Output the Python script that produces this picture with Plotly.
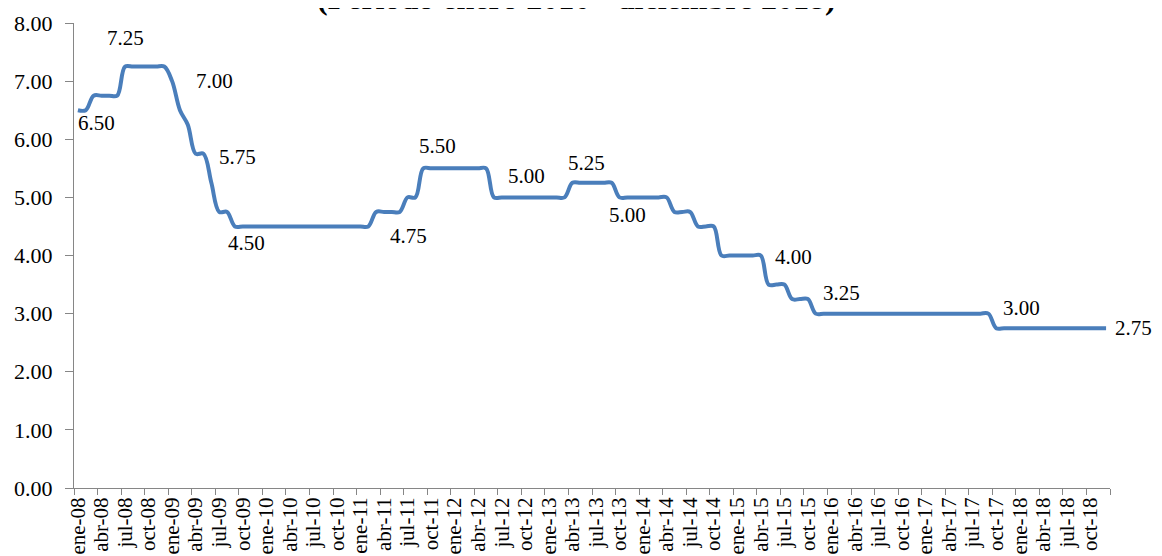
import plotly.graph_objects as go

# monthly labels, ene-08 .. dic-18
month_names = ["ene", "feb", "mar", "abr", "may", "jun",
               "jul", "ago", "sep", "oct", "nov", "dic"]
years = ["08", "09", "10", "11", "12", "13", "14", "15", "16", "17", "18"]
months = [f"{m}-{y}" for y in years for m in month_names]

# tasa de interés líder (%)
rate_2008 = [6.50, 6.50, 6.75, 6.75, 6.75, 6.75, 7.25, 7.25, 7.25, 7.25, 7.25, 7.25]
rate_2009 = [7.00, 6.50, 6.25, 5.75, 5.75, 5.25, 4.75, 4.75, 4.50, 4.50, 4.50, 4.50]
rate_2010 = [4.50, 4.50, 4.50, 4.50, 4.50, 4.50, 4.50, 4.50, 4.50, 4.50, 4.50, 4.50]
rate_2011 = [4.50, 4.50, 4.75, 4.75, 4.75, 4.75, 5.00, 5.00, 5.50, 5.50, 5.50, 5.50]
rate_2012 = [5.50, 5.50, 5.50, 5.50, 5.50, 5.00, 5.00, 5.00, 5.00, 5.00, 5.00, 5.00]
rate_2013 = [5.00, 5.00, 5.00, 5.25, 5.25, 5.25, 5.25, 5.25, 5.25, 5.00, 5.00, 5.00]
rate_2014 = [5.00, 5.00, 5.00, 5.00, 4.75, 4.75, 4.75, 4.50, 4.50, 4.50, 4.00, 4.00]
rate_2015 = [4.00, 4.00, 4.00, 4.00, 3.50, 3.50, 3.50, 3.25, 3.25, 3.25, 3.00, 3.00]
rate_2016 = [3.00, 3.00, 3.00, 3.00, 3.00, 3.00, 3.00, 3.00, 3.00, 3.00, 3.00, 3.00]
rate_2017 = [3.00, 3.00, 3.00, 3.00, 3.00, 3.00, 3.00, 3.00, 3.00, 2.75, 2.75, 2.75]
rate_2018 = [2.75, 2.75, 2.75, 2.75, 2.75, 2.75, 2.75, 2.75, 2.75, 2.75, 2.75, 2.75]

rates = (rate_2008 + rate_2009 + rate_2010 + rate_2011 + rate_2012 + rate_2013
         + rate_2014 + rate_2015 + rate_2016 + rate_2017 + rate_2018)

# months that get a value label
label_months = ["ene-08", "jul-08", "ene-09", "abr-09", "sep-09", "may-11",
                "sep-11", "jul-12", "abr-13", "oct-13", "abr-15", "oct-15",
                "sep-17", "dic-18"]

# pixel offsets of each label from its point (style only)
label_shifts = [(19, -13), (0, 29), (42, 0), (42, -3), (12, -17), (17, -24),
                (14, 22), (25, 21), (14, 20), (8, -18), (33, -1), (34, 6),
                (33, 6), (27, 0)]

FONT = "Liberation Serif"
LINE_COLOR = "#4A7EBB"
AXIS_COLOR = "#868686"

fig = go.Figure()

fig.add_trace(go.Scatter(
    x=months,
    y=rates,
    mode="lines",
    line=dict(color=LINE_COLOR, width=4, shape="spline", smoothing=1.0),
    hoverinfo="x+y",
    showlegend=False
))

# value labels
for m, (dx, dy) in zip(label_months, label_shifts):
    val = rates[months.index(m)]
    fig.add_annotation(
        x=m, y=val, xref="x", yref="y",
        text=f"{val:.2f}",
        showarrow=False,
        xshift=dx, yshift=dy,
        xanchor="center", yanchor="middle",
        font=dict(family=FONT, size=21, color="#000000")
    )

# title, mostly cut off at the top like the original
fig.add_annotation(
    x=0.4855, y=1.054, xref="paper", yref="paper",
    text="<b>(Período enero 2010 - diciembre 2018)</b>",
    showarrow=False,
    xanchor="center", yanchor="middle",
    font=dict(family=FONT, size=32, color="#000000")
)

# the page body adds an 8px offset, so the figure is made smaller
fig.update_layout(
    template="none",
    width=1154,
    height=548,
    margin=dict(l=66, r=52, t=15, b=68, autoexpand=False),
    paper_bgcolor="white",
    plot_bgcolor="white",
    font=dict(family=FONT, size=21, color="#000000"),
    xaxis=dict(
        type="category",
        range=[-0.5, len(months) - 0.5],
        dtick=3,
        tickangle=-90,
        tickson="boundaries",
        ticks="outside",
        ticklen=6,
        tickcolor=AXIS_COLOR,
        showline=True,
        linecolor=AXIS_COLOR,
        linewidth=1,
        showgrid=False,
        zeroline=False,
        automargin=False,
        tickfont=dict(family=FONT, size=21)
    ),
    yaxis=dict(
        range=[0, 8],
        dtick=1,
        tickformat=".2f",
        ticks="outside",
        ticklen=8,
        tickcolor=AXIS_COLOR,
        showline=True,
        linecolor=AXIS_COLOR,
        linewidth=1,
        showgrid=False,
        zeroline=False,
        automargin=False,
        ticklabelstandoff=8,
        tickfont=dict(family=FONT, size=22)
    )
)

fig.write_html("out.html")
